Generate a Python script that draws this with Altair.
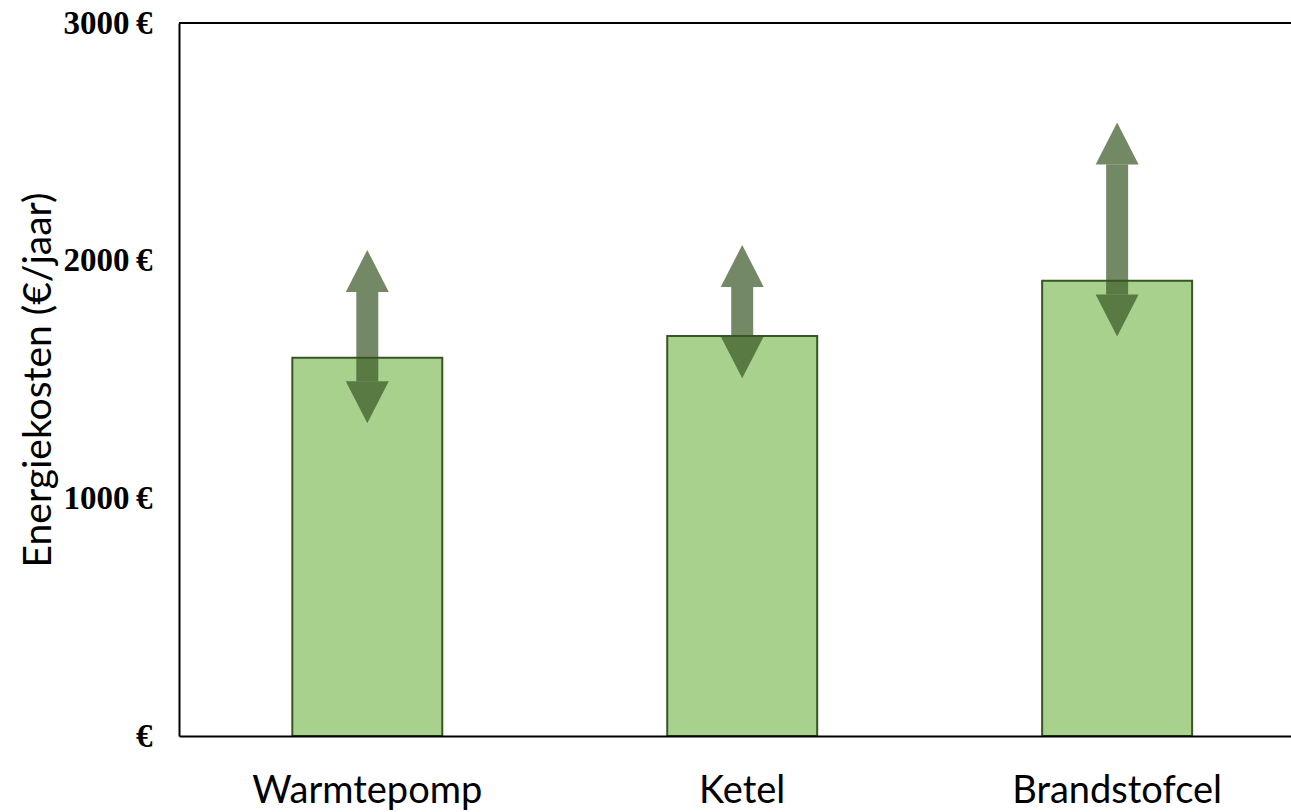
import altair as alt
import pandas as pd

categories = ["Warmtepomp", "Ketel", "Brandstofcel"]
costs = [1592, 1683, 1915]
range_high = [2045, 2066, 2581]
range_low = [1316, 1505, 1681]
y_ticks = [0, 1000, 2000, 3000]
top_line = [3000]

df = pd.DataFrame({"cat": categories, "cost": costs, "hi": range_high, "lo": range_low})
top_df = pd.DataFrame({"v": top_line})

W, H = 1112, 713
BAR = "#a9d18e"
DARK = "#375623"

xscale = alt.Scale(domain=categories, paddingInner=0.6, paddingOuter=0.283, align=0.534)
yscale = alt.Scale(domain=[0, 3000], nice=False)

x_axis = alt.Axis(
    title=None, labelAngle=0, labelFont="Lato", labelFontSize=38, labelColor="black",
    labelPadding=36, labelLimit=0, ticks=False, tickSize=0, domainColor="black", domainWidth=2,
    zindex=1,
)
y_axis = alt.Axis(
    values=y_ticks,
    labelExpr='datum.value == 0 ? "€" : datum.value + "\u2009€"',
    labelFont="Liberation Serif", labelFontWeight="bold", labelFontSize=33, labelColor="black",
    labelPadding=27, ticks=False, tickSize=0, grid=False, domainColor="black", domainWidth=2,
    zindex=1,
    title="Energiekosten (€/jaar)", titleFont="Lato", titleFontSize=39, titleFontWeight="normal",
    titleColor="black", titleAngle=-90, titleX=-141, titleY=356.5, titleAlign="center",
    titleBaseline="middle",
)


def X():
    return alt.X("cat:N", sort=categories, scale=xscale, axis=x_axis)


def Y(field):
    return alt.Y(field, scale=yscale, axis=y_axis)


base = alt.Chart(df)

bars = base.mark_bar(color=BAR, stroke=DARK, strokeWidth=2).encode(x=X(), y=Y("cost:Q"))

shaft = base.mark_bar(size=22, color=DARK, opacity=0.7, yOffset=42, y2Offset=-42).encode(
    x=X(), y=Y("hi:Q"), y2="lo:Q"
)

head_up = base.mark_point(
    shape="M0,0 L1,1.95 L-1,1.95 Z", size=1849, filled=True, color=DARK, opacity=0.7, strokeWidth=0
).encode(x=X(), y=Y("hi:Q"))

head_down = base.mark_point(
    shape="M0,0 L1,-1.95 L-1,-1.95 Z", size=1849, filled=True, color=DARK, opacity=0.7, strokeWidth=0
).encode(x=X(), y=Y("lo:Q"))

top = alt.Chart(top_df).mark_rule(color="black", strokeWidth=2).encode(y=Y("v:Q"))

chart = (
    alt.layer(bars, shaft, head_up, head_down, top)
    .properties(
        width=W, height=H, autosize="none",
        padding={"left": 179, "top": 23, "right": 0, "bottom": 76},
        background="white",
    )
    .configure_view(stroke=None)
)

chart.save("out.html", embed_options={"renderer": "svg", "actions": False})
